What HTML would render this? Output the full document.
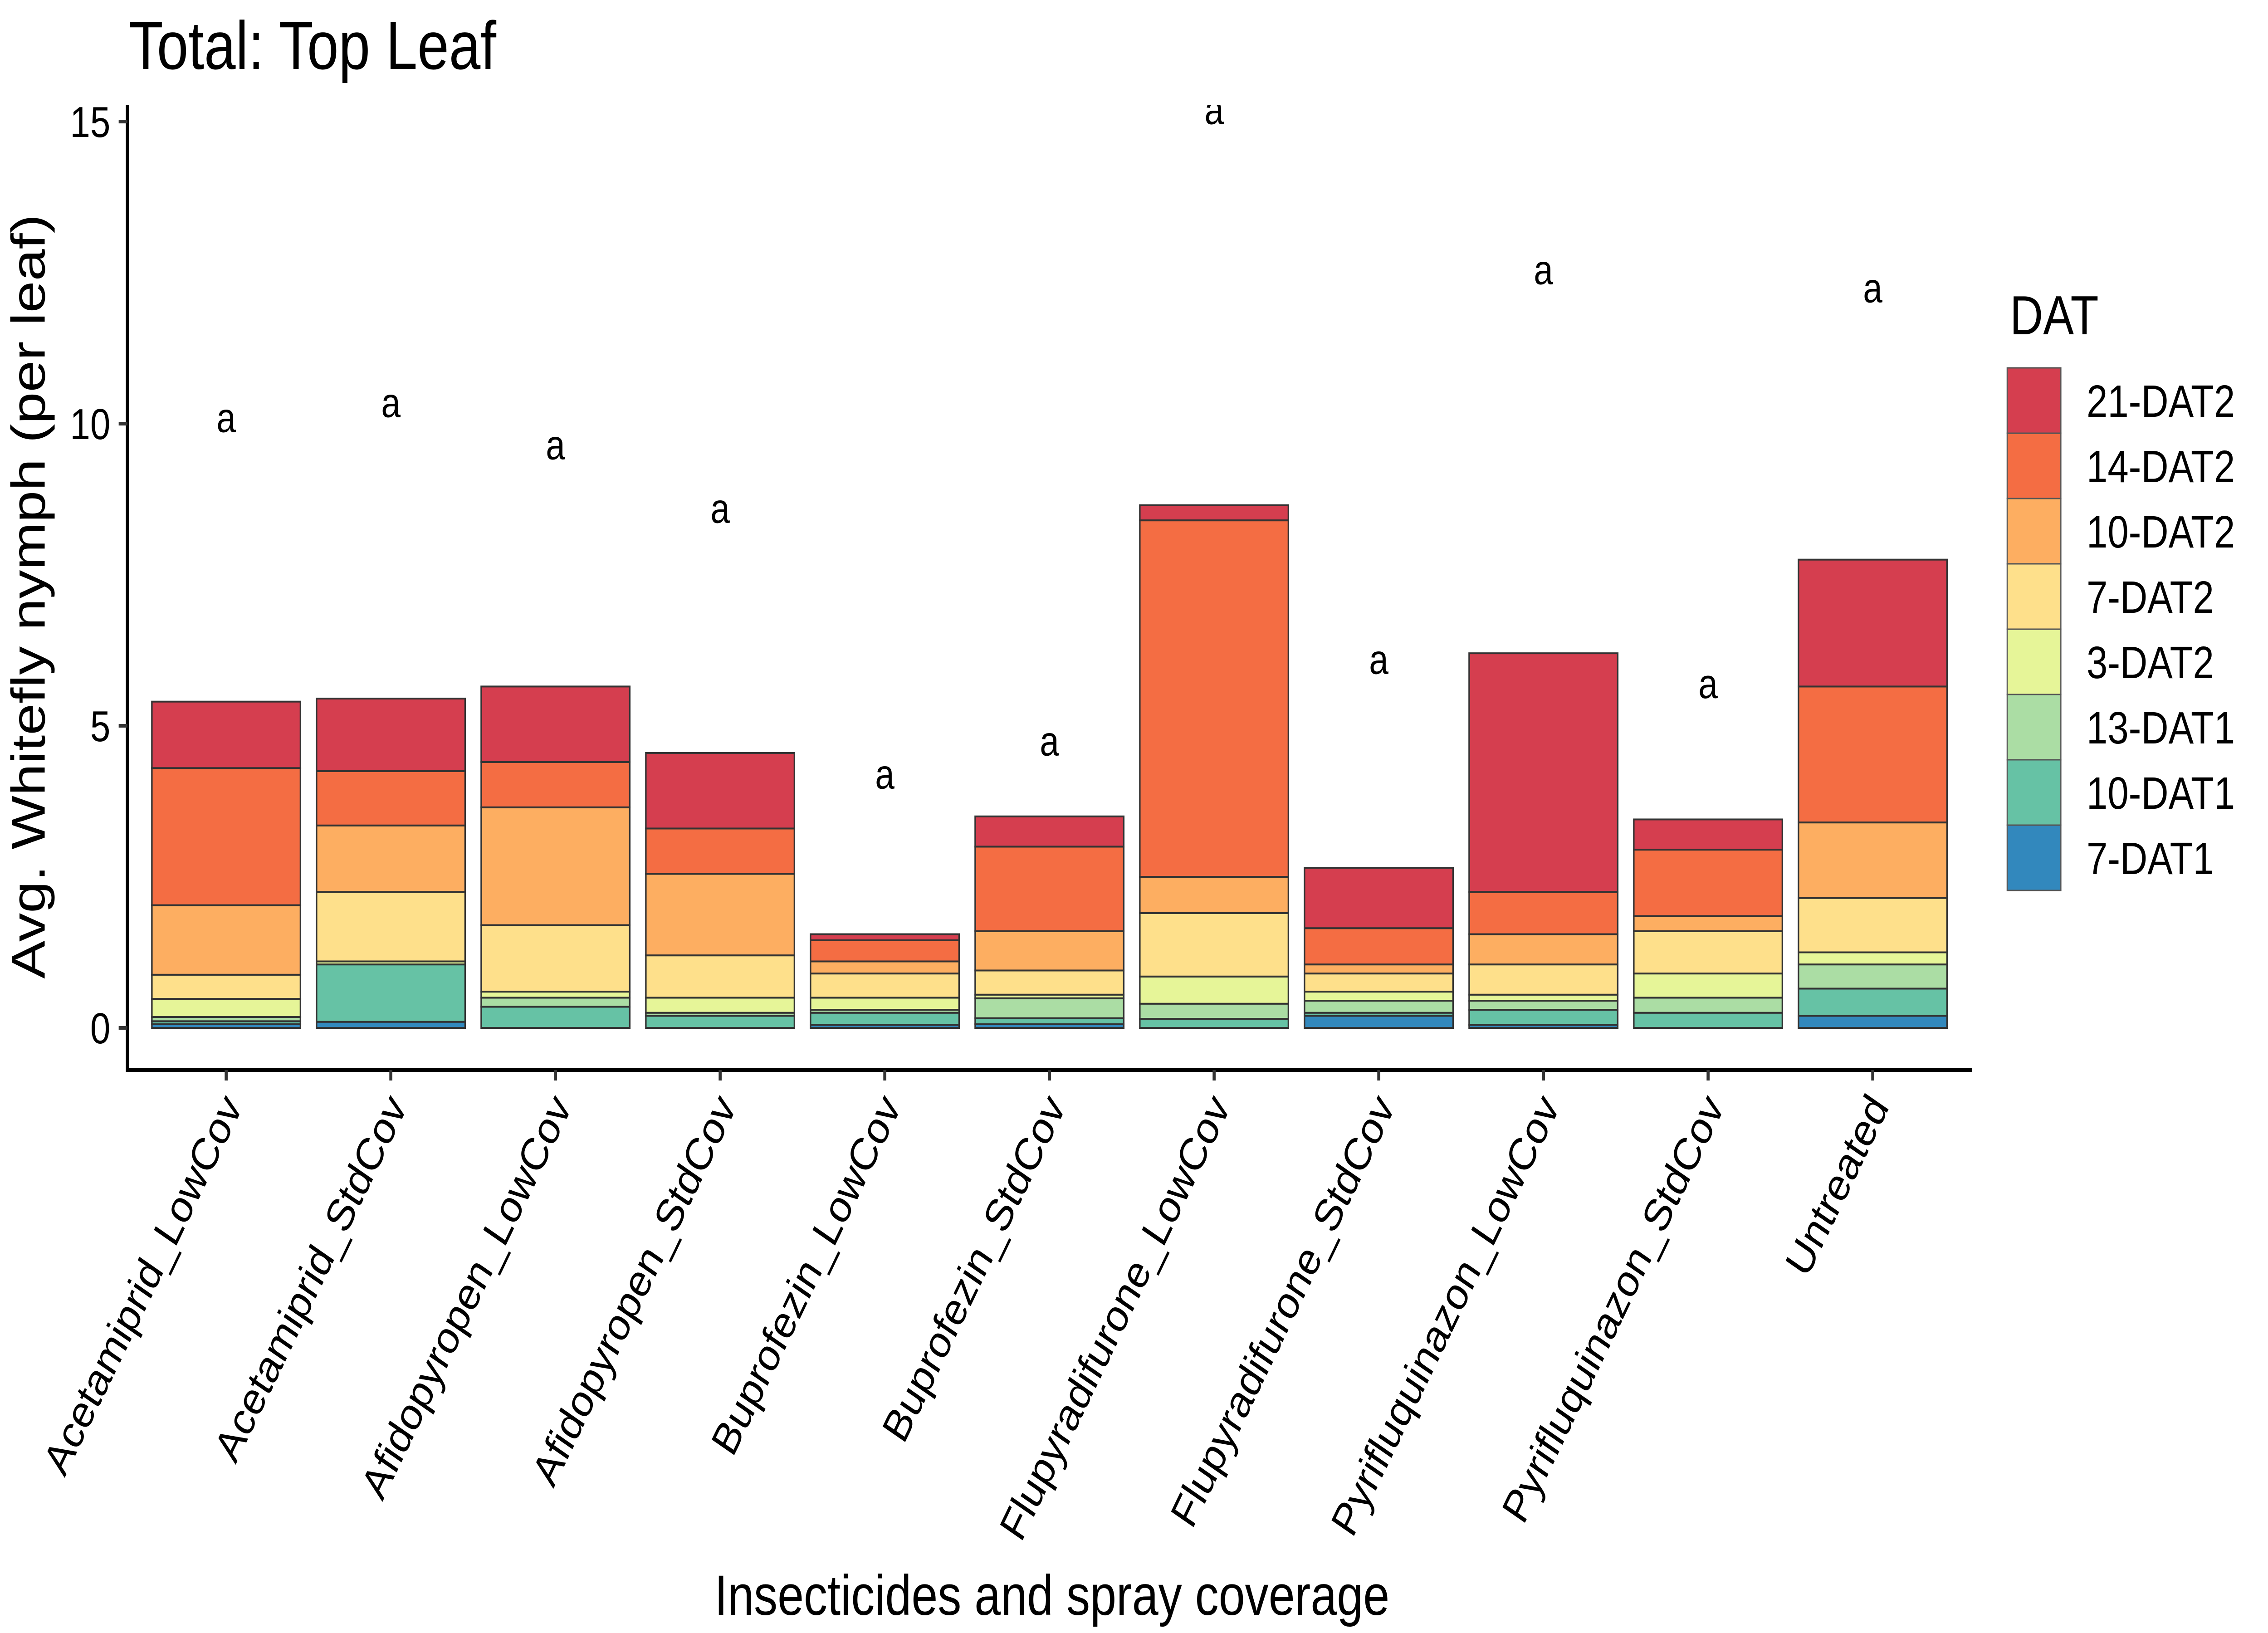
<!DOCTYPE html>
<html><head><meta charset="utf-8"><style>
html,body{margin:0;padding:0;background:#fff;width:100%;height:100%;overflow:hidden}
svg{display:block;font-family:"Liberation Sans",Arial,sans-serif;width:100vw;height:100vh}
</style></head><body>
<svg id="chart" viewBox="0 0 6000 3600" preserveAspectRatio="none">
<text x="340" y="152" font-size="150">Total: Top Leaf</text>
<text transform="translate(118,1315) rotate(-90)" text-anchor="middle" font-size="126">Avg. Whitefly nymph (per leaf)</text>
<text x="2783" y="3560" text-anchor="middle" font-size="125">Insecticides and spray coverage</text>
<defs><clipPath id="panel"><rect x="337" y="232" width="4880" height="2128"/></clipPath></defs>
<g id="bars" clip-path="url(#panel)"></g>
<g id="axes"></g>
<g id="legend"></g>
</svg>
<script>
const categories = ["Acetamiprid_LowCov","Acetamiprid_StdCov","Afidopyropen_LowCov","Afidopyropen_StdCov","Buprofezin_LowCov","Buprofezin_StdCov","Flupyradifurone_LowCov","Flupyradifurone_StdCov","Pyrifluquinazon_LowCov","Pyrifluquinazon_StdCov","Untreated"];
const seriesNames = ["7-DAT1","10-DAT1","13-DAT1","3-DAT2","7-DAT2","10-DAT2","14-DAT2","21-DAT2"];
const seriesColors = ["#3288BD","#66C2A5","#ABDDA4","#E6F598","#FEE08B","#FDAE61","#F46D43","#D53E4F"];
const dat1_7  = [0.06,0.10,0.00,0.00,0.05,0.06,0.00,0.20,0.05,0.00,0.20];
const dat1_10 = [0.05,0.95,0.35,0.20,0.20,0.10,0.15,0.05,0.25,0.25,0.45];
const dat1_13 = [0.07,0.00,0.15,0.05,0.05,0.33,0.25,0.20,0.15,0.25,0.40];
const dat2_3  = [0.30,0.05,0.10,0.25,0.20,0.06,0.45,0.15,0.10,0.40,0.20];
const dat2_7  = [0.40,1.15,1.10,0.70,0.40,0.40,1.05,0.30,0.50,0.70,0.90];
const dat2_10 = [1.15,1.10,1.95,1.35,0.20,0.65,0.60,0.15,0.50,0.25,1.25];
const dat2_14 = [2.27,0.90,0.75,0.75,0.35,1.40,5.90,0.60,0.70,1.10,2.25];
const dat2_21 = [1.10,1.20,1.25,1.25,0.10,0.50,0.25,1.00,3.95,0.50,2.10];
const letterY = [10.1,10.35,9.65,8.6,4.2,4.75,15.2,6.1,12.55,5.7,12.25];
const letters = ["a","a","a","a","a","a","a","a","a","a","a"];
const yTicks = [0,5,10,15];

const series = [dat1_7,dat1_10,dat1_13,dat2_3,dat2_7,dat2_10,dat2_14,dat2_21];
const NS="http://www.w3.org/2000/svg";
const X0=337, STEP=435.6, BW=393, Y0=2266, PPU=133.2;
const xScale=i=>X0+(i+0.6)*STEP;
const yScale=v=>Y0-v*PPU;
function mk(tag,attrs,parent){const e=document.createElementNS(NS,tag);for(const k in attrs)e.setAttribute(k,attrs[k]);parent.appendChild(e);return e;}
const gb=document.getElementById('bars'), ga=document.getElementById('axes'), gl=document.getElementById('legend');

categories.forEach((c,i)=>{
  let cum=0;
  series.forEach((s,j)=>{
    const v=s[i]; const y1=yScale(cum+v), y0=yScale(cum);
    const r=mk('rect',{x:xScale(i)-BW/2,y:y1,width:BW,height:Math.max(0,y0-y1),fill:seriesColors[j],stroke:'#333',"stroke-width":4},gb);
    
    
    cum+=v;
  });
  const t=mk('text',{x:xScale(i),y:yScale(letterY[i])+32,"text-anchor":"middle","font-size":92},gb);
  t.textContent=letters[i];
  
  
});

const yl=mk('line',{x1:X0,y1:232,x2:X0,y2:2362,stroke:'#000',"stroke-width":8},ga);


const xl=mk('line',{x1:X0-4,y1:2359,x2:5217,y2:2359,stroke:'#000',"stroke-width":8},ga);


yTicks.forEach(v=>{
  const y=yScale(v);
  const tk=mk('line',{x1:X0-23,y1:y,x2:X0,y2:y,stroke:'#333',"stroke-width":8},ga);
  
  
  const tl=mk('text',{x:292,y:y+34,"text-anchor":"end","font-size":96},ga);
  tl.textContent=v;
  
  
});
categories.forEach((c,i)=>{
  const x=xScale(i);
  const tk=mk('line',{x1:x,y1:2359,x2:x,y2:2382,stroke:'#333',"stroke-width":8},ga);
  
  
  const tl=mk('text',{transform:`translate(${x+45},2440) rotate(-60)`,"text-anchor":"end","font-size":100},ga);
  tl.textContent=c;
  
  
});

const lt=mk('text',{x:5317,y:737,"font-size":122},gl);
lt.textContent='DAT';


for(let k=0;k<8;k++){
  const j=7-k; const y=811+k*144;
  const r=mk('rect',{x:5310,y:y,width:142,height:144,fill:seriesColors[j],stroke:'#555',"stroke-width":3},gl);
  
  
  const t=mk('text',{x:5520,y:y+72+36,"font-size":100},gl);
  t.textContent=seriesNames[j];
  
  
}
</script>
</body></html>
